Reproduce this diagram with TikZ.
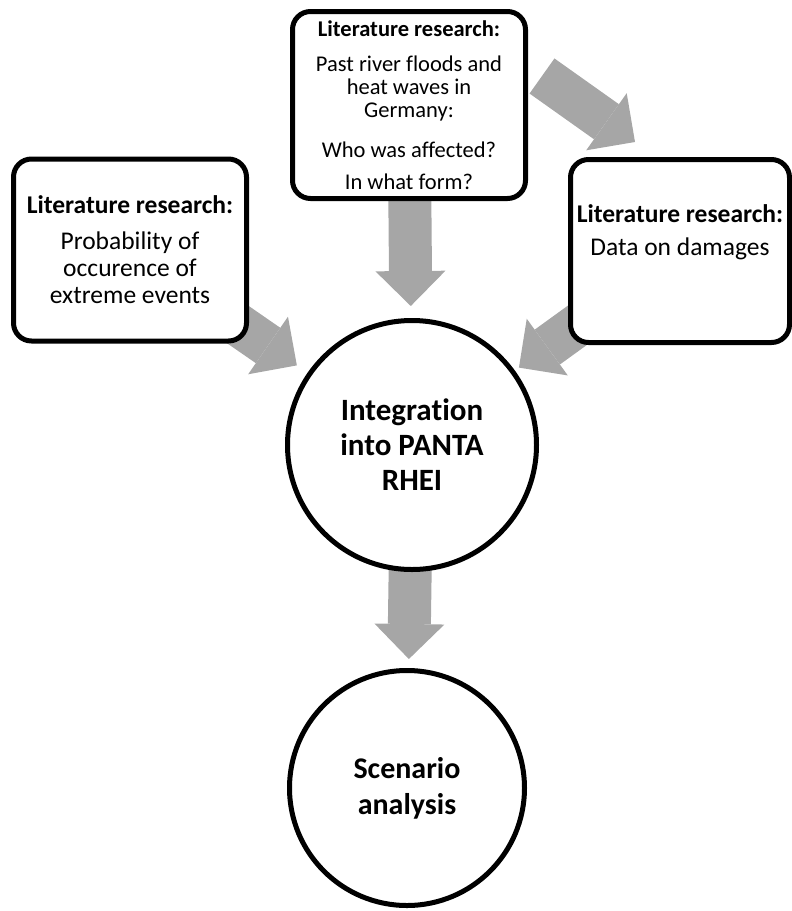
\documentclass[tikz,border=0pt]{standalone}
\usepackage{fontspec}
\setmainfont{Carlito}[Ligatures=NoCommon]
\usetikzlibrary{arrows.meta,positioning,backgrounds}

\begin{document}
\begin{tikzpicture}[x=1pt,y=-1pt,
		litbox/.style={rectangle,rounded corners=18pt,draw=black,line width=5pt,fill=white,align=center,inner sep=0pt},
		hub/.style={circle,draw=black,line width=5pt,fill=white,align=center,inner sep=0pt,minimum size=249pt,font=\fontsize{31}{35}\selectfont\bfseries},
		bigarrow/.style={draw=black!35,line width=43pt,-{Triangle[width=70pt,length=35pt,line width=0pt]}}]

	\useasboundingbox (0,0) rectangle (792,911);

	\node[litbox,minimum width=233pt,minimum height=187pt,font=\fontsize{22.5}{23}\selectfont] (past) at (409,105)
		{\textbf{Literature research:}\\[12pt] Past river floods and\\ heat waves in\\ Germany:\\[17pt] Who was affected?\\[9pt] In what form?};
	\node[litbox,minimum width=233pt,minimum height=182pt,font=\fontsize{25.5}{27}\selectfont] (prob) at (130,250)
		{\textbf{Literature research:}\\[9pt] Probability of\\ occurence of\\ extreme events};
	\node[litbox,minimum width=219pt,minimum height=183pt,text depth=41pt,font=\fontsize{25.5}{27}\selectfont] (dmg) at (680,251)
		{\textbf{Literature research:}\\[6pt] Data on damages};

	\node[hub] (integ) at (412,445) {Integration\\ into PANTA\\ RHEI};
	\node[hub,minimum size=235pt,below=96pt of integ,xshift=-5pt,font=\fontsize{30}{36}\selectfont\bfseries] (scen) {Scenario\\ analysis};

	\begin{scope}[on background layer]
		\draw[bigarrow,shorten >=12pt] (past.center) -- (integ);
		\draw[bigarrow,shorten >=13pt] (prob.center) -- (integ);
		\draw[bigarrow,shorten >=5pt] (dmg.center) -- (integ);
		\draw[bigarrow] ([shift={(14pt,29pt)}]past.east) -- ([shift={(-45pt,15pt)}]dmg.north);
		\draw[bigarrow,shorten >=9pt] (integ.center) -- (scen);
	\end{scope}
\end{tikzpicture}
\end{document}
